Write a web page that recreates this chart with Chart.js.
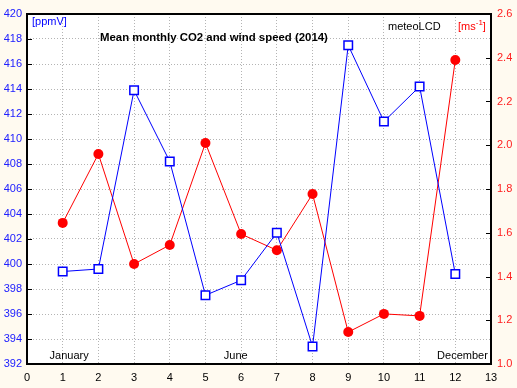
<!DOCTYPE html>
<html>
<head>
<meta charset="utf-8">
<script src="https://cdn.jsdelivr.net/npm/chart.js@4"></script>
<style>
  html, body { margin: 0; padding: 0; background: #fffaf0; }
  #wrap { width: 517px; height: 388px; position: relative; }
</style>
</head>
<body>
<div id="wrap"><canvas id="chart"></canvas></div>
<script>
// Mean monthly CO2 (ppmV) and wind speed (m/s), meteoLCD 2014
const months = [1, 2, 3, 4, 5, 6, 7, 8, 9, 10, 11, 12];
const co2 = [399.4, 399.6, 413.9, 408.2, 397.5, 398.7, 402.5, 393.4, 417.5, 411.4, 414.2, 399.2];
const wind = [1.645, 1.96, 1.457, 1.544, 2.01, 1.594, 1.52, 1.777, 1.146, 1.229, 1.22, 2.39];
const monthNotes = [
    { text: 'January', x: 1.18 },
    { text: 'June', x: 5.85 },
    { text: 'December', x: 12.2 }
];

const FONT = '"Liberation Sans", Arial, sans-serif';

// white plot area, frame, inner tick marks and the texts
const decorPlugin = {
    id: 'decor',
    beforeDraw(chart) {
        const { ctx, chartArea: a } = chart;
        ctx.save();
        ctx.fillStyle = '#ffffff';
        ctx.fillRect(a.left, a.top, a.right - a.left, a.bottom - a.top);
        ctx.restore();
    },
    afterDraw(chart) {
        const { ctx, chartArea: a, scales } = chart;
        ctx.save();
        // tick marks inside the frame
        ctx.strokeStyle = '#000';
        ctx.lineWidth = 1;
        scales.y.ticks.forEach(t => {
            const py = Math.round(scales.y.getPixelForValue(t.value)) + 0.5;
            ctx.beginPath(); ctx.moveTo(a.left, py); ctx.lineTo(a.left + 5, py); ctx.stroke();
        });
        scales.y1.ticks.forEach(t => {
            const py = Math.round(scales.y1.getPixelForValue(t.value)) + 0.5;
            ctx.beginPath(); ctx.moveTo(a.right - 5, py); ctx.lineTo(a.right, py); ctx.stroke();
        });
        // frame
        ctx.lineWidth = 2;
        ctx.strokeRect(a.left, a.top, a.right - a.left, a.bottom - a.top);

        // texts
        ctx.textBaseline = 'middle';
        ctx.fillStyle = '#0000ff';
        ctx.font = '11px ' + FONT;
        ctx.textAlign = 'left';
        ctx.fillText('[ppmV]', a.left + 5, a.top + 8);

        ctx.fillStyle = '#000';
        ctx.font = 'bold 11.4px ' + FONT;
        ctx.fillText('Mean monthly CO2 and wind speed (2014)', a.left + 73, a.top + 24);

        ctx.font = '11px ' + FONT;
        ctx.fillText('meteoLCD', a.left + 361, a.top + 13);

        // [ms-1] with superscript
        ctx.fillStyle = '#ff0000';
        let x = a.left + 431;
        const y0 = a.top + 13;
        ctx.fillText('[ms', x, y0);
        x += ctx.measureText('[ms').width;
        ctx.font = '8px ' + FONT;
        ctx.fillText('-1', x, y0 - 4);
        x += ctx.measureText('-1').width;
        ctx.font = '11px ' + FONT;
        ctx.fillText(']', x, y0);

        ctx.fillStyle = '#000';
        ctx.textAlign = 'center';
        monthNotes.forEach(n => {
            ctx.fillText(n.text, scales.x.getPixelForValue(n.x), a.bottom - 8);
        });
        ctx.restore();
    }
};

const gridStyle = {
    color: '#b4b4b4',
    lineWidth: 1,
    drawTicks: false
};

new Chart(document.getElementById('chart'), {
    type: 'line',
    data: {
        labels: months,
        datasets: [
            {
                label: 'CO2',
                data: months.map((m, i) => ({ x: m, y: co2[i] })),
                yAxisID: 'y',
                borderColor: '#0000ff',
                borderWidth: 1,
                backgroundColor: '#ffffff',
                pointStyle: 'rect',
                pointRadius: 6,
                pointBorderWidth: 1.5,
                pointBorderColor: '#0000ff',
                pointBackgroundColor: '#ffffff',
                tension: 0
            },
            {
                label: 'Wind speed',
                data: months.map((m, i) => ({ x: m, y: wind[i] })),
                yAxisID: 'y1',
                borderColor: '#ff0000',
                borderWidth: 1,
                backgroundColor: '#ff0000',
                pointStyle: 'circle',
                pointRadius: 5,
                pointBorderWidth: 0,
                pointBackgroundColor: '#ff0000',
                tension: 0
            }
        ]
    },
    options: {
        responsive: true,
        maintainAspectRatio: false,
        animation: false,
        layout: { padding: { top: 14, left: 0, right: 0, bottom: 0 } },
        plugins: {
            legend: { display: false },
            tooltip: { enabled: false }
        },
        scales: {
            x: {
                type: 'linear',
                min: 0,
                max: 13,
                ticks: { stepSize: 1, color: '#000', font: { family: FONT, size: 11 }, padding: 7 },
                grid: { ...gridStyle },
                border: { display: false, dash: [1, 2] },
                afterFit(s) { s.height = 24; }
            },
            y: {
                position: 'left',
                min: 392,
                max: 420,
                ticks: { stepSize: 2, color: '#2020ff', font: { family: FONT, size: 11 }, padding: 5 },
                grid: { ...gridStyle },
                border: { display: false, dash: [1, 2] },
                afterFit(s) { s.width = 27; }
            },
            y1: {
                position: 'right',
                min: 1.0,
                max: 2.6,
                ticks: {
                    stepSize: 0.2,
                    color: '#ff2020',
                    font: { family: FONT, size: 11 },
                    padding: 6,
                    callback: v => v.toFixed(1)
                },
                grid: { display: false, drawTicks: false },
                border: { display: false },
                afterFit(s) { s.width = 26; }
            }
        }
    },
    plugins: [decorPlugin]
});
</script>
</body>
</html>
